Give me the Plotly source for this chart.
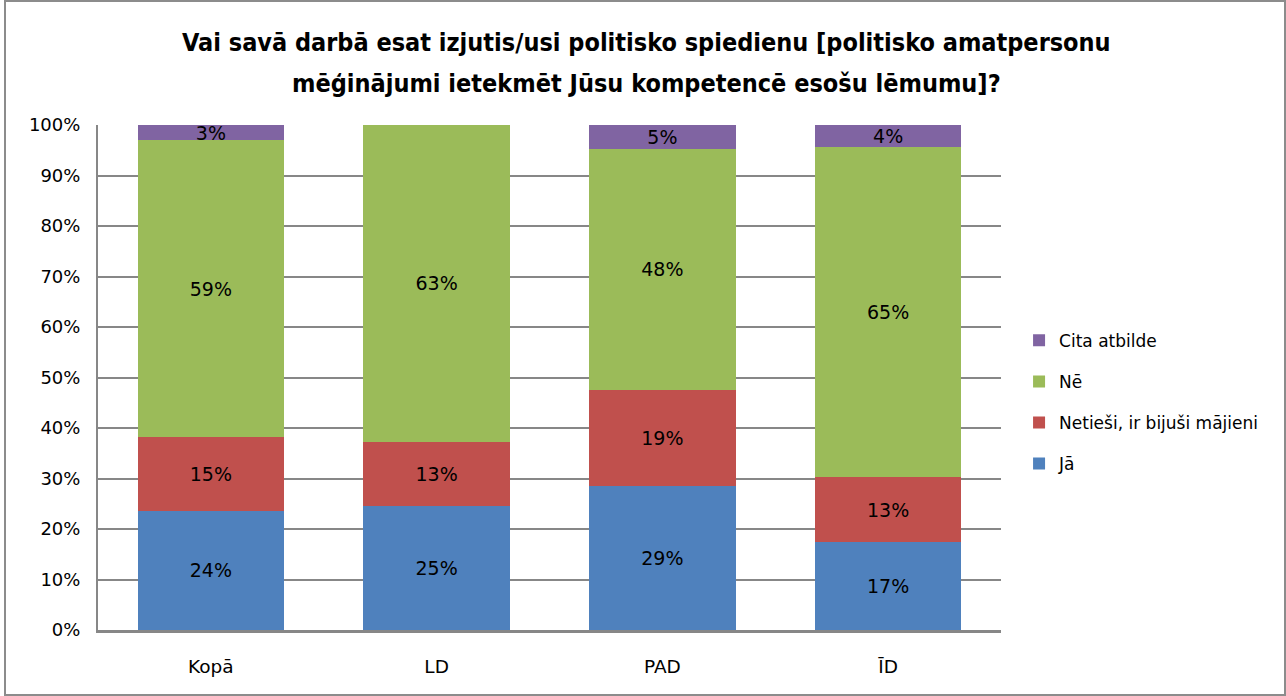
import plotly.graph_objects as go

categories = ["Kopā", "LD", "PAD", "ĪD"]
ja = [23.6, 24.6, 28.6, 17.4]
netiesi = [14.6, 12.7, 19.0, 12.9]
ne = [58.8, 62.7, 47.6, 65.3]
cita = [3.0, None, 4.8, 4.4]

series_names = ["Jā", "Netieši, ir bijuši mājieni", "Nē", "Cita atbilde"]
series_values = [ja, netiesi, ne, cita]
colors = ["#4F81BD", "#C0504D", "#9BBB59", "#8064A2"]

title_lines = [
    "Vai savā darbā esat izjutis/usi politisko spiedienu [politisko amatpersonu",
    "mēģinājumi ietekmēt Jūsu kompetencē esošu lēmumu]?",
]

font_family = "DejaVu Sans, Verdana, sans-serif"

fig = go.Figure()
n = len(series_names)
for i, (name, vals, col) in enumerate(zip(series_names, series_values, colors)):
    fig.add_trace(go.Bar(
        x=categories, y=vals, name=name, legendgroup=name,
        legendrank=n - i,  # top stack segment listed first
        marker=dict(color=col, line=dict(width=0)),
        texttemplate="%{y:.0f}%", textposition="inside",
        insidetextanchor="middle", constraintext="none",
        textfont=dict(family=font_family, size=19, color="#000000"),
        cliponaxis=False,
    ))

fig.update_layout(
    barmode="stack",
    bargap=0.35,
    width=1286, height=696,
    paper_bgcolor="white", plot_bgcolor="white",
    margin=dict(l=98, r=285, t=125, b=66),
    legend=dict(
        traceorder="grouped",
        x=1.02, xanchor="left", y=0.451, yanchor="middle",
        font=dict(family=font_family, size=17, color="#000000"),
        itemwidth=30, tracegroupgap=16,
    ),
    font=dict(family=font_family, size=17, color="#000000"),
    showlegend=True,
)

# two-line bold heading
for txt, ypos in zip(title_lines, [1.1624, 1.082]):
    fig.add_annotation(
        text=f"<b>{txt}</b>", xref="paper", yref="paper",
        x=(646 - 98) / 903, y=ypos, xanchor="center", yanchor="middle",
        showarrow=False,
        font=dict(family="DejaVu Sans Condensed, DejaVu Sans, sans-serif", size=25, color="#000000"),
    )

fig.update_yaxes(
    range=[0, 100], dtick=10, ticksuffix="%",
    showgrid=True, gridcolor="#878787", gridwidth=2,
    showline=True, linecolor="#878787", linewidth=2,
    ticks="", ticklabelstandoff=12,
    tickfont=dict(family=font_family, size=18),
    zeroline=False,
)
fig.update_xaxes(
    showline=True, linecolor="#878787", linewidth=3,
    ticks="", tickfont=dict(family=font_family, size=18.5),
    ticklabelstandoff=18,
)

# outer chart border
fig.add_shape(type="rect", xref="paper", yref="paper",
              x0=-93 / 903, x1=1187 / 903, y0=-65 / 505, y1=629 / 505,
              line=dict(color="#8c8c8c", width=2), fillcolor="rgba(0,0,0,0)", layer="below")

fig.write_html("out.html")
